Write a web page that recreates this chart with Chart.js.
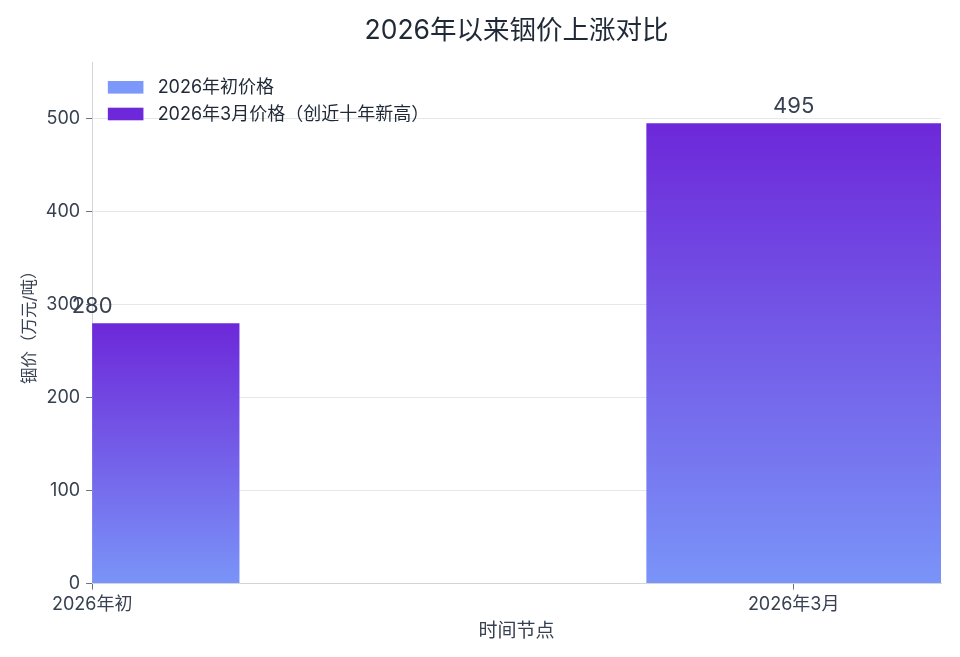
<!DOCTYPE html>
<html>
<head>
<meta charset="utf-8">
<script src="https://cdn.jsdelivr.net/npm/chart.js@4.4.0/dist/chart.umd.min.js"></script>
<style>
  html, body { margin: 0; padding: 0; background: #ffffff; }
  #wrap { width: 960px; height: 657px; position: relative; }
</style>
</head>
<body>
<div id="wrap"><canvas id="c"></canvas></div>
<script>
// ---- data ----
const categories = ['2026年初', '2026年3月'];
const seriesNames = ['2026年初价格', '2026年3月价格（创近十年新高）'];
const startPrices = [280, null];
const marchPrices = [null, 495];
const chartTitle = '2026年以来铟价上涨对比';
const xTitle = '时间节点';
const yTitle = '铟价（万元/吨）';

// ---- style ----
const FONT = 'Inter, "Noto Sans CJK SC", sans-serif';
const TOP_COLOR = '#6d28d9';
const BOTTOM_COLOR = '#7a94f8';
const legendColors = ['#7c98fa', '#6d28d9'];
const BAR_FRACTION = 0.42;

Chart.defaults.font.family = FONT;
Chart.defaults.color = '#374151';

function toPoints(values) {
  return values.map((v, i) => ({ x: i, y: v })).filter(p => p.y !== null);
}

function barGradient(ctx) {
  const chart = ctx.chart;
  if (!chart.chartArea || ctx.type !== 'data' || !ctx.raw) return legendColors[ctx.datasetIndex];
  const ys = chart.scales.y;
  const top = ys.getPixelForValue(ctx.raw.y);
  const bottom = ys.getPixelForValue(0);
  const g = chart.ctx.createLinearGradient(0, top, 0, bottom);
  g.addColorStop(0, TOP_COLOR);
  g.addColorStop(1, BOTTOM_COLOR);
  return g;
}

const valueLabels = {
  id: 'valueLabels',
  afterDatasetsDraw(chart) {
    const { ctx } = chart;
    ctx.save();
    ctx.font = '22px ' + FONT;
    ctx.fillStyle = '#374151';
    ctx.textAlign = 'center';
    ctx.textBaseline = 'alphabetic';
    chart.data.datasets.forEach((ds, di) => {
      const meta = chart.getDatasetMeta(di);
      meta.data.forEach((el, i) => {
        ctx.fillText(String(ds.data[i].y), el.x, el.y - 10.5);
      });
    });
    ctx.restore();
  }
};

const areaLegend = {
  id: 'areaLegend',
  afterDraw(chart) {
    const { ctx, chartArea } = chart;
    ctx.save();
    ctx.font = '18px ' + FONT;
    ctx.textAlign = 'left';
    ctx.textBaseline = 'middle';
    chart.data.datasets.forEach((ds, i) => {
      const cy = chartArea.top + 24.5 + i * 26.7;
      ctx.fillStyle = legendColors[i];
      ctx.fillRect(chartArea.left + 15.7, cy - 6.3, 35.6, 12.6);
      ctx.fillStyle = '#1f2937';
      ctx.fillText(ds.label, chartArea.left + 65.5, cy + 0.5);
    });
    ctx.restore();
  }
};

new Chart(document.getElementById('c'), {
  type: 'bar',
  data: {
    datasets: [
      { label: seriesNames[0], data: toPoints(startPrices), backgroundColor: barGradient, borderWidth: 0, grouped: false },
      { label: seriesNames[1], data: toPoints(marchPrices), backgroundColor: barGradient, borderWidth: 0, grouped: false }
    ]
  },
  options: {
    responsive: true,
    maintainAspectRatio: false,
    animation: false,
    categoryPercentage: 0.6,
    barPercentage: 0.7,
    layout: { padding: { top: 0, right: 19, bottom: 14, left: 14 } },
    plugins: {
      legend: { display: false },
      tooltip: { enabled: false },
      title: {
        display: true,
        fullSize: false,
        text: chartTitle,
        color: '#1f2937',
        font: { size: 26.5, weight: 'normal' },
        padding: { top: 15, bottom: 16 }
      }
    },
    scales: {
      x: {
        type: 'linear',
        offset: false,
        min: 0,
        max: categories.length - 1 + BAR_FRACTION / 2,
        afterBuildTicks: (scale) => { scale.ticks = categories.map((c, i) => ({ value: i })); },
        ticks: {
          callback: (value) => categories[value],
          font: { size: 18 },
          color: '#374151',
          padding: 4.5,
          maxRotation: 0,
          autoSkip: false
        },
        grid: { display: true, offset: false, drawOnChartArea: false, drawTicks: true, tickLength: 6, tickColor: '#6b7280' },
        border: { display: true, color: '#d1d5db' },
        title: { display: true, text: xTitle, color: '#374151', font: { size: 19 }, padding: { top: 0, bottom: 0 } }
      },
      y: {
        min: 0,
        max: 560,
        ticks: { stepSize: 100, includeBounds: false, font: { size: 18 }, color: '#374151', padding: 6 },
        grid: { color: '#e5e7eb', tickLength: 6, tickColor: '#6b7280' },
        border: { display: true, color: '#d1d5db' },
        title: { display: true, text: yTitle, color: '#374151', font: { size: 16.5 }, padding: { top: 6, bottom: 0 } }
      }
    }
  },
  plugins: [valueLabels, areaLegend]
});
</script>
</body>
</html>
